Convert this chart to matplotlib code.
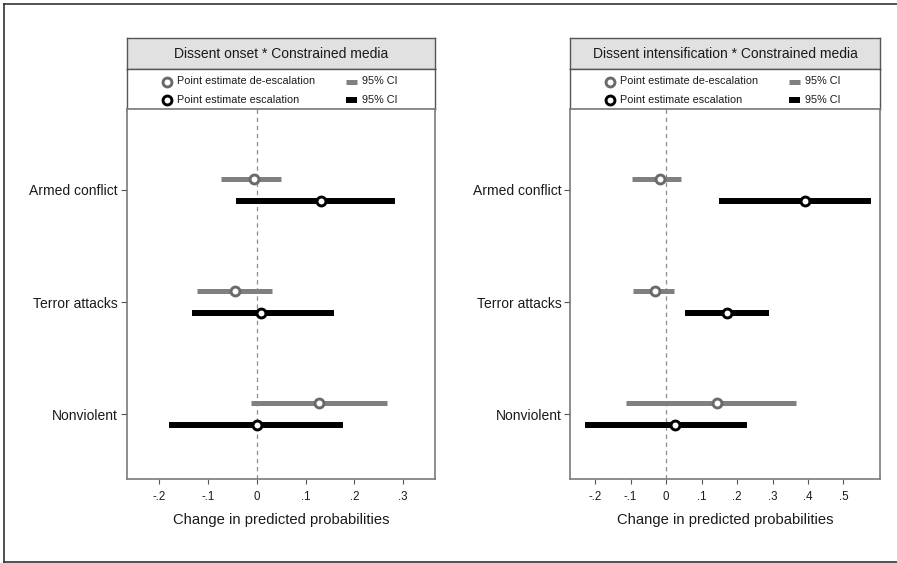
import matplotlib
matplotlib.use("Agg")
import matplotlib.pyplot as plt
from matplotlib.lines import Line2D

plt.rcParams['font.family'] = ['Liberation Sans', 'DejaVu Sans']

# ---------------- data ----------------
categories = ["Armed conflict", "Terror attacks", "Nonviolent"]

onset_deesc_est = [-0.006, -0.045, 0.128]
onset_deesc_lo = [-0.074, -0.123, -0.012]
onset_deesc_hi = [0.050, 0.032, 0.266]
onset_esc_est = [0.131, 0.009, 0.000]
onset_esc_lo = [-0.043, -0.133, -0.179]
onset_esc_hi = [0.284, 0.159, 0.177]

intens_deesc_est = [-0.017, -0.030, 0.143]
intens_deesc_lo = [-0.097, -0.092, -0.112]
intens_deesc_hi = [0.042, 0.021, 0.365]
intens_esc_est = [0.392, 0.172, 0.025]
intens_esc_lo = [0.149, 0.052, -0.228]
intens_esc_hi = [0.577, 0.289, 0.227]

panel_titles = ["Dissent onset * Constrained media",
                "Dissent intensification * Constrained media"]
onset_ticks = [-0.2, -0.1, 0.0, 0.1, 0.2, 0.3]
intens_ticks = [-0.2, -0.1, 0.0, 0.1, 0.2, 0.3, 0.4, 0.5]
xlabel = "Change in predicted probabilities"
legend_labels = ["Point estimate de-escalation", "Point estimate escalation", "95% CI", "95% CI"]

# ---------------- layout ----------------
W, H = 897, 563
fig = plt.figure(figsize=(W / 100, H / 100), dpi=100)

def rect(x0, y0, x1, y1):
    return [x0 / W, 1 - y1 / H, (x1 - x0) / W, (y1 - y0) / H]

GRAY = '#808080'
GRAY_EDGE = '#6a6a6a'
SPINE = '#7a7a7a'
TXT = '#1a1a1a'

def tick_fmt(v):
    if abs(v) < 1e-9:
        return "0"
    s = f"{v:.1f}"
    return s.replace("0.", ".")

def panel(x0, x1, title, xlim, ticks, de_est, de_lo, de_hi, es_est, es_lo, es_hi):
    # title strip
    ts = fig.add_axes(rect(x0, 38.3, x1, 69.3))
    ts.set_facecolor('#e1e1e1')
    ts.set_xticks([]); ts.set_yticks([])
    for s in ts.spines.values():
        s.set_color('#555555'); s.set_linewidth(1.0)
    ts.text(0.5, 0.5, title, ha='center', va='center', fontsize=10, color=TXT,
            transform=ts.transAxes)

    # legend strip
    lg = fig.add_axes(rect(x0, 69.3, x1, 109.3))
    lg.set_xlim(0, x1 - x0); lg.set_ylim(109.3, 69.3)
    lg.set_xticks([]); lg.set_yticks([])
    for s in lg.spines.values():
        s.set_color('#555555'); s.set_linewidth(1.0)
    rows = [81.5, 99.5]
    lg.plot([40], [rows[0]], 'o', ms=6.4, mfc='white', mec=GRAY_EDGE, mew=2.1)
    lg.plot([40], [rows[1]], 'o', ms=6.4, mfc='white', mec='black', mew=2.1)
    lg.text(50, rows[0], legend_labels[0], va='center', ha='left', fontsize=7.8, color=TXT)
    lg.text(50, rows[1], legend_labels[1], va='center', ha='left', fontsize=7.8, color=TXT)
    lg.plot([219, 230], [rows[0], rows[0]], color=GRAY, lw=3.6, solid_capstyle='butt')
    lg.plot([219, 230], [rows[1], rows[1]], color='black', lw=4.3, solid_capstyle='butt')
    lg.text(235, rows[0], legend_labels[2], va='center', ha='left', fontsize=7.8, color=TXT)
    lg.text(235, rows[1], legend_labels[3], va='center', ha='left', fontsize=7.8, color=TXT)

    # plot area
    ax = fig.add_axes(rect(x0, 109.3, x1, 479))
    ax.set_xlim(*xlim)
    ax.set_ylim(0.423, 3.719)
    ypos = [3, 2, 1]
    off = 0.1
    ax.axvline(0, color='#8c8c8c', lw=0.9, ls=(0, (3.5, 3)), zorder=1)
    for i, y in enumerate(ypos):
        ax.plot([de_lo[i], de_hi[i]], [y + off, y + off], color=GRAY, lw=3.6,
                solid_capstyle='butt', zorder=2)
        ax.plot([es_lo[i], es_hi[i]], [y - off, y - off], color='black', lw=4.3,
                solid_capstyle='butt', zorder=2)
        ax.plot([de_est[i]], [y + off], 'o', ms=6.4, mfc='white', mec=GRAY_EDGE, mew=2.1, zorder=3)
        ax.plot([es_est[i]], [y - off], 'o', ms=6.4, mfc='white', mec='black', mew=2.1, zorder=3)
    ax.set_yticks(ypos)
    ax.set_yticklabels(categories, fontsize=10, color=TXT)
    ax.set_xticks(ticks)
    ax.set_xticklabels([tick_fmt(t) for t in ticks], fontsize=8.3, color=TXT)
    ax.tick_params(axis='y', direction='out', length=4.5, width=0.8, color='#555555', pad=2)
    ax.tick_params(axis='x', direction='out', length=3.3, width=0.8, color='#555555', pad=5)
    for s in ax.spines.values():
        s.set_color(SPINE); s.set_linewidth(1.2)
    fig.text(((x0 + x1) / 2) / W, 1 - 520 / H, xlabel, ha='center', va='center',
             fontsize=10.6, color=TXT)
    return ax

panel(126.7, 435.0, panel_titles[0], (-0.266, 0.365), onset_ticks,
      onset_deesc_est, onset_deesc_lo, onset_deesc_hi,
      onset_esc_est, onset_esc_lo, onset_esc_hi)
panel(570.3, 880.0, panel_titles[1], (-0.270, 0.603), intens_ticks,
      intens_deesc_est, intens_deesc_lo, intens_deesc_hi,
      intens_esc_est, intens_esc_lo, intens_esc_hi)

# outer frame (left, top, bottom)
frame_color = '#333333'
fig.add_artist(Line2D([3.5 / W, 3.5 / W], [1 - 4 / H, 1 - 561.5 / H], color=frame_color, lw=1.2,
                      transform=fig.transFigure))
fig.add_artist(Line2D([3.5 / W, 1.0], [1 - 4 / H, 1 - 4 / H], color=frame_color, lw=1.2,
                      transform=fig.transFigure))
fig.add_artist(Line2D([3.5 / W, 1.0], [1 - 561.5 / H, 1 - 561.5 / H], color=frame_color, lw=1.2,
                      transform=fig.transFigure))

fig.savefig("out.png", dpi=100, facecolor='white')
